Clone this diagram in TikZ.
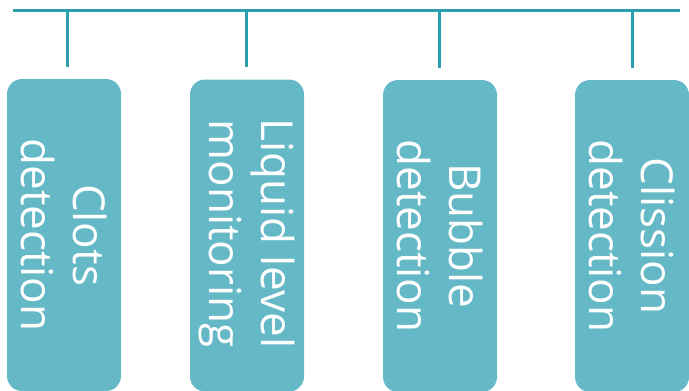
\documentclass[tikz,border=0pt]{standalone}
\usepackage{fontspec}
\setmainfont{Open Sans}
\definecolor{linec}{HTML}{2B9FAE}
\definecolor{boxc}{HTML}{65B9C6}
\begin{document}
\begin{tikzpicture}[x=1pt,y=-1pt,
  box/.style={fill=boxc, draw=none, rounded corners=15pt, minimum width=114pt, minimum height=312pt, inner sep=0pt},
  lbl/.style={text=white, rotate=-90, align=center, font=\fontsize{44}{52}\selectfont},
  conn/.style={draw=linec, line width=3pt}]
\useasboundingbox (0,0) rectangle (689,391);
\node[box] (b1) at (64,235) {};
\node[box] (b2) at (247,235.5) {};
\node[box] (b3) at (440,236) {};
\node[box] (b4) at (632,236) {};
\node[lbl] (t1) at (b1.center) {Clots\\detection};
\node[lbl] (t2) at ([yshift=2pt]b2.center) {Liquid level\\monitoring};
\node[lbl] (t3) at (b3.center) {Bubble\\detection};
\node[lbl] (t4) at (b4.center) {Clission\\detection};
\coordinate (hl) at (13,10);
\coordinate (hr) at (680,10);
\draw[conn] (hl) -- (hr);
\coordinate (v1) at (67,67);
\coordinate (v2) at (246,67);
\coordinate (v3) at (439,68);
\coordinate (v4) at (632,68);
\draw[conn] (67,8.5) -- (v1);
\draw[conn] (246,8.5) -- (v2);
\draw[conn] (439,8.5) -- (v3);
\draw[conn] (632,8.5) -- (v4);
\end{tikzpicture}
\end{document}
